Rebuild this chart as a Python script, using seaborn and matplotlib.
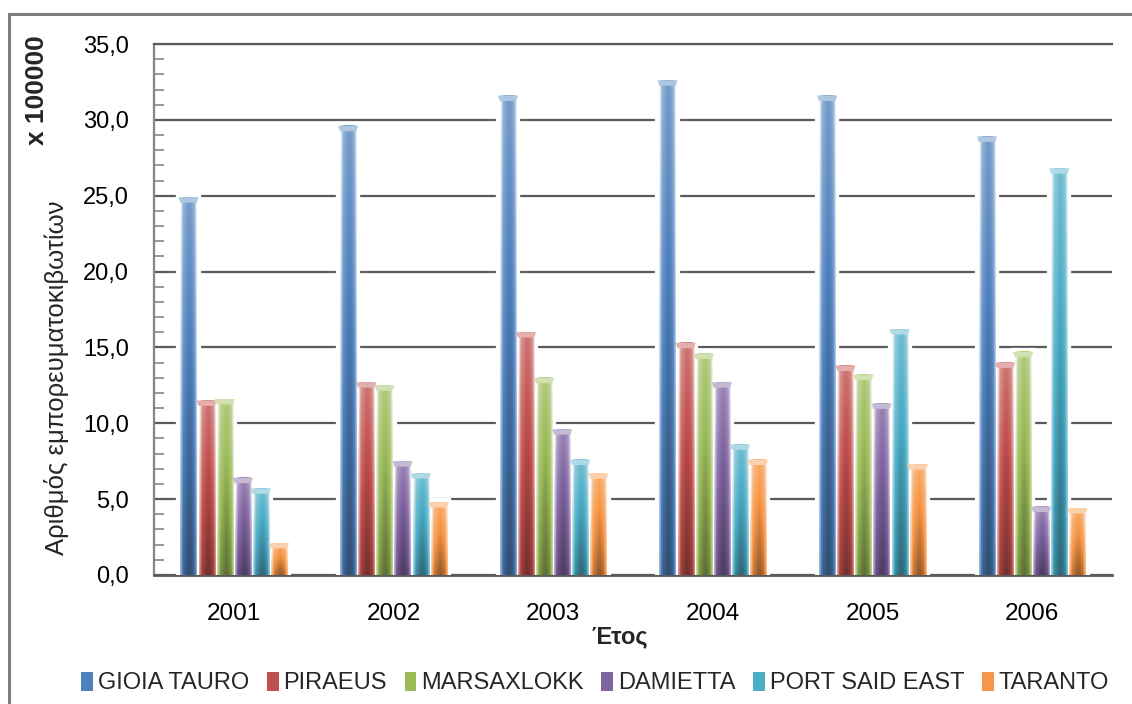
import numpy as np
import pandas as pd
import matplotlib
matplotlib.use("Agg")
import matplotlib.pyplot as plt
import seaborn as sns
from matplotlib.ticker import MultipleLocator, FuncFormatter
from matplotlib.patches import Rectangle, Polygon
from matplotlib.colors import to_rgb

# Container throughput per port (hundreds of thousands of TEU)
years = ["2001", "2002", "2003", "2004", "2005", "2006"]
ports = ["GIOIA TAURO", "PIRAEUS", "MARSAXLOKK", "DAMIETTA", "PORT SAID EAST", "TARANTO"]
gioia_tauro = [24.9, 29.6, 31.6, 32.6, 31.6, 28.9]
piraeus = [11.5, 12.7, 16.0, 15.3, 13.8, 14.0]
marsaxlokk = [11.6, 12.5, 13.0, 14.6, 13.2, 14.7]
damietta = [6.4, 7.5, 9.6, 12.7, 11.3, 4.5]
port_said_east = [5.7, 6.7, 7.6, 8.6, 16.2, 26.8]
taranto = [2.1, 4.8, 6.7, 7.6, 7.3, 4.4]
colors = ["#4F81BD", "#C0504D", "#9BBB59", "#8064A2", "#4BACC6", "#F79646"]

series = [gioia_tauro, piraeus, marsaxlokk, damietta, port_said_east, taranto]
rows = []
for port, vals in zip(ports, series):
    for yr, v in zip(years, vals):
        rows.append({"year": yr, "port": port, "value": v})
df = pd.DataFrame(rows)

sns.set_theme(style="white")
plt.rcParams["font.family"] = ["Liberation Sans", "DejaVu Sans"]

W, H = 1132, 704
fig = plt.figure(figsize=(W / 100, H / 100), dpi=100)
ax = fig.add_axes([154 / W, 1 - 575 / H, (1112 - 154) / W, (575 - 44) / H])

sns.barplot(data=df, x="year", y="value", hue="port", hue_order=ports,
            order=years, palette=colors, saturation=1, width=0.68, gap=0.1,
            legend=False, ax=ax, zorder=3)


def shade(c, s):
    c = np.asarray(c)
    s = s[..., None]
    light = c + (1 - c) * np.clip(s, 0, 0.95)
    dark = c * (1 - np.clip(-s, 0, 0.9))
    return np.where(s >= 0, light, dark)


def bar_gradient(color, n=80):
    base = np.array(to_rgb(color))
    u = np.linspace(0, 1, n)[None, :]
    v = np.linspace(0, 1, n)[:, None]
    edge = 0.70 * np.exp(-(u / 0.12) ** 2) + 0.55 * np.exp(-((1 - u) / 0.10) ** 2)
    core = -0.18 * np.exp(-((u - 0.55) / 0.22) ** 2)
    vert = 0.38 * (1 - v) - 0.22 * v
    s = edge + core + vert
    return np.clip(shade(base, s), 0, 1)


cap_h = 0.35
for patch in list(ax.patches):
    x0, w, h = patch.get_x(), patch.get_width(), patch.get_height()
    if h <= 0:
        continue
    fc = patch.get_facecolor()[:3]
    patch.set_edgecolor("white")
    patch.set_linewidth(6.0)
    ax.imshow(bar_gradient(fc), extent=[x0, x0 + w, 0, h], origin="upper",
              aspect="auto", interpolation="bilinear", zorder=3.5)
    dx = w * 0.12
    capc = shade(np.array(fc), np.array(0.55))
    ax.add_patch(Polygon([(x0 - dx, h), (x0 + w + dx, h), (x0 + w, h - cap_h), (x0, h - cap_h)],
                         closed=True, facecolor=capc, edgecolor="none", zorder=3.6))

ax.set_xlim(-0.5, len(years) - 0.5)
ax.set_ylim(0, 35)
ax.yaxis.set_major_locator(MultipleLocator(5))
ax.yaxis.set_minor_locator(MultipleLocator(1))
ax.yaxis.set_major_formatter(FuncFormatter(lambda v, p: f"{v:.1f}".replace(".", ",")))
ax.set_axisbelow(True)
ax.yaxis.grid(True, which="major", color="#5a5a5a", linewidth=1.6)
ax.xaxis.grid(False)

ax.spines["right"].set_visible(False)
ax.spines["top"].set_color("#5a5a5a")
ax.spines["top"].set_linewidth(1.6)
ax.spines["left"].set_color("#868686")
ax.spines["left"].set_linewidth(1.6)
ax.spines["bottom"].set_color("#5a5a5a")
ax.spines["bottom"].set_linewidth(2.0)

ax.tick_params(axis="y", which="major", length=0, pad=18, labelsize=17, colors="black")
ax.tick_params(axis="y", which="minor", direction="in", length=7, width=1.2,
               color="#868686", left=True)
ax.tick_params(axis="x", length=0, pad=20, labelsize=17.5, colors="black")

ax.set_xlabel("")
ax.set_ylabel("")
fig.text(620 / W, 1 - 637 / H, "Έτος", ha="center", va="center",
         fontsize=17, fontweight="bold")
fig.text(57 / W, 1 - 378 / H, "Αριθμός εμπορευματοκιβωτίων", rotation=90,
         ha="center", va="center", fontsize=18.5)
fig.text(37 / W, 1 - 90 / H, "x 100000", rotation=90, ha="center", va="center",
         fontsize=19, fontweight="bold")

handles = [Rectangle((0, 0), 1, 1, facecolor=c, edgecolor="none") for c in colors]
fig.legend(handles, ports, loc="center", bbox_to_anchor=(595 / W, 1 - 683 / H),
           ncol=6, frameon=False, fontsize=17, handlelength=0.5, handleheight=0.9,
           handletextpad=0.2, columnspacing=0.75, borderaxespad=0)

fig.add_artist(Rectangle((9 / W, -0.05), 1.2, (1 - 14 / H) + 0.05, transform=fig.transFigure,
                         fill=False, edgecolor="#7f7f7f", linewidth=2.2))

fig.savefig("out.png", dpi=100, facecolor="white")
